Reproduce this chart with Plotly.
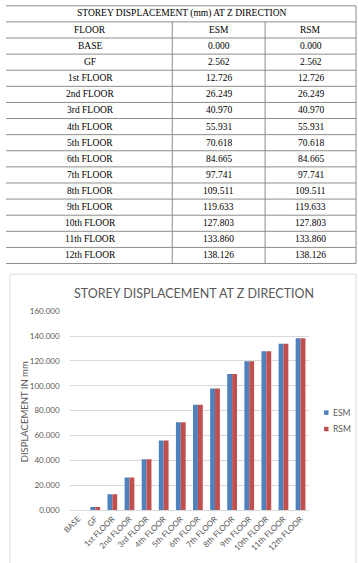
import plotly.graph_objects as go

floors = ["BASE", "GF", "1st FLOOR", "2nd FLOOR", "3rd FLOOR", "4th FLOOR", "5th FLOOR",
          "6th FLOOR", "7th FLOOR", "8th FLOOR", "9th FLOOR", "10th FLOOR", "11th FLOOR", "12th FLOOR"]
esm = [0.000, 2.562, 12.726, 26.249, 40.970, 55.931, 70.618, 84.665, 97.741,
       109.511, 119.633, 127.803, 133.860, 138.126]
rsm = [0.000, 2.562, 12.726, 26.249, 40.970, 55.931, 70.618, 84.665, 97.741,
       109.511, 119.633, 127.803, 133.860, 138.126]
series_names = ["ESM", "RSM"]
series_colors = ["#4F81BD", "#C0504D"]
table_title = "STOREY DISPLACEMENT (mm) AT Z DIRECTION"
table_header = ["FLOOR", "ESM", "RSM"]
chart_title = "STOREY DISPLACEMENT AT Z DIRECTION"
y_title = "DISPLACEMENT IN mm"
y_ticks = [0, 20, 40, 60, 80, 100, 120, 140, 160]

W, H = 358, 563


def px(x):
    return x / W


def py(y):
    return 1 - y / H


ROW = 16.4
TOP = 0.8
COL_X = [0, 168, 263, 356]
serif = "Liberation Serif"
sans = "Lato"
grey_txt = "#595959"
line_c = "#8c8c8c"

fig = go.Figure()

for name, vals, col in zip(series_names, [esm, rsm], series_colors):
    fig.add_trace(go.Bar(x=floors, y=vals, name=name,
                         marker=dict(color=col, line=dict(width=0)), showlegend=False))

shapes = []
annotations = []

# ---- table drawn from the data lists ----
table_rows = [table_header] + [[f, f"{e:.3f}", f"{r:.3f}"] for f, e, r in zip(floors, esm, rsm)]
n_rows = len(table_rows) + 1  # + title row
bottom = TOP + ROW * n_rows
for k in range(n_rows + 1):
    y = TOP + ROW * k
    shapes.append(dict(type="line", xref="paper", yref="paper", x0=px(-2), x1=px(COL_X[-1]),
                       y0=py(y), y1=py(y), line=dict(color=line_c, width=1)))
shapes.append(dict(type="line", xref="paper", yref="paper", x0=px(COL_X[-1]), x1=px(COL_X[-1]),
                   y0=py(TOP), y1=py(bottom), line=dict(color=line_c, width=1)))
for cx in COL_X[1:-1]:
    shapes.append(dict(type="line", xref="paper", yref="paper", x0=px(cx), x1=px(cx),
                       y0=py(TOP + ROW), y1=py(bottom), line=dict(color=line_c, width=1)))

annotations.append(dict(text=table_title, x=px(COL_X[-1] / 2), y=py(TOP + ROW / 2),
                        xref="paper", yref="paper", showarrow=False,
                        xanchor="center", yanchor="middle",
                        font=dict(family=serif, size=9.5, color="black")))
for i, row in enumerate(table_rows):
    yc = TOP + ROW * (i + 1) + ROW / 2
    for j, txt in enumerate(row):
        xc = (COL_X[j] + COL_X[j + 1]) / 2
        annotations.append(dict(text=txt, x=px(xc), y=py(yc), xref="paper", yref="paper",
                                showarrow=False, xanchor="center", yanchor="middle",
                                font=dict(family=serif, size=9.5, color="black")))

# ---- chart frame, title, axis title, legend ----
shapes.append(dict(type="rect", xref="paper", yref="paper", x0=px(2), x1=px(356), y0=py(570), y1=py(274),
                   line=dict(color="#d9d9d9", width=1), fillcolor="rgba(0,0,0,0)", layer="below"))
annotations.append(dict(text=chart_title, x=px(190), y=py(294), xref="paper", yref="paper",
                        showarrow=False, xanchor="center", yanchor="middle",
                        font=dict(family=sans, size=12.5, color=grey_txt)))
annotations.append(dict(text=y_title, x=px(17), y=py(414), xref="paper", yref="paper", textangle=-90,
                        showarrow=False, xanchor="center", yanchor="middle",
                        font=dict(family=sans, size=9.5, color=grey_txt)))
for i, (name, col) in enumerate(zip(series_names, series_colors)):
    yc = 415 + 16.7 * i
    shapes.append(dict(type="rect", xref="paper", yref="paper", x0=px(323.3), x1=px(327.8),
                       y0=py(yc + 2.3), y1=py(yc - 2.3), line=dict(width=0), fillcolor=col))
    annotations.append(dict(text=name, x=px(330.5), y=py(yc), xref="paper", yref="paper",
                            showarrow=False, xanchor="left", yanchor="middle",
                            font=dict(family=sans, size=8.5, color=grey_txt)))

fig.update_layout(
    width=W, height=H,
    margin=dict(l=0, r=0, t=0, b=0),
    paper_bgcolor="white", plot_bgcolor="white",
    barmode="group", bargap=0.43, bargroupgap=0,
    showlegend=False,
    xaxis=dict(domain=[px(63), px(308)], anchor="y", showgrid=False, showline=True,
               linecolor="#d9d9d9", linewidth=1, tickangle=-45, ticks="",
               tickfont=dict(family=sans, size=8, color=grey_txt)),
    yaxis=dict(domain=[py(514.3), py(311.7)], range=[0, 160], tickvals=y_ticks,
               tickformat=".3f", showgrid=True, gridcolor="#d9d9d9", gridwidth=1,
               zeroline=False, showline=False, ticks="", ticklabelstandoff=9,
               tickfont=dict(family=sans, size=8, color=grey_txt)),
    shapes=shapes,
    annotations=annotations,
)

fig.write_html("out.html")
